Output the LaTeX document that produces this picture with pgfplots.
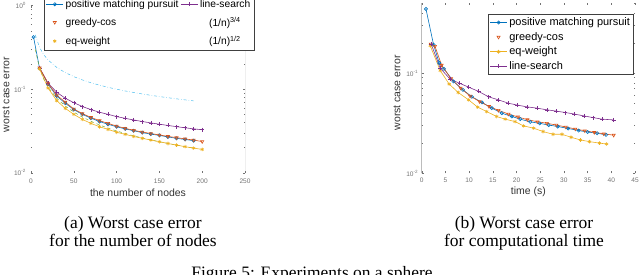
\documentclass[border=0pt]{standalone}
\usepackage{fontspec}
\setmainfont{Liberation Sans}
\newfontfamily\capfont{Liberation Serif}
\usepackage{pgfplots}
\pgfplotsset{compat=1.18}
\definecolor{mblue}{rgb}{0,0.447,0.741}
\definecolor{morange}{rgb}{0.85,0.325,0.098}
\definecolor{myellow}{rgb}{0.929,0.694,0.125}
\definecolor{mpurple}{rgb}{0.494,0.184,0.556}
\definecolor{mgreen}{rgb}{0.466,0.674,0.188}
\definecolor{mcyan}{rgb}{0.301,0.745,0.933}
\begin{document}
\begin{tikzpicture}
\useasboundingbox (0,0) rectangle (640bp,275bp);
% ---------------- left plot ----------------
\begin{semilogyaxis}[
  scale only axis, axis line style={draw=none},
  tick style={black!55, line width=0.4pt}, major tick length=2.2bp, minor tick length=1.3bp,
  tick label style={font=\fontsize{6.6}{7}\selectfont, text=black!55},
  label style={font=\fontsize{10.5}{12}\selectfont, text=black!80},
  /pgf/number format/assume math mode=true,
  ytick={0.01,0.1,1},
  yticklabels={10\textsuperscript{-2},10\textsuperscript{-1},10\textsuperscript{0}},
  at={(31bp,102.3bp)}, anchor=south west, width=214bp, height=167bp,
  xmin=0, xmax=250, ymin=0.01, ymax=1,
  xtick={0,50,100,150,200,250},
  xticklabel style={yshift=-2.5bp},
  yticklabel style={xshift=-1.5bp},
  xlabel={the number of nodes}, ylabel={worst case error},
  xlabel style={at={(axis description cs:0.5,-0.093)}, anchor=north, inner sep=0pt},
  ylabel style={at={(axis description cs:-0.117,0.468)}, anchor=center},
  legend cell align=left,
  legend columns=2,
  legend style={at={(0.062,1.0575)}, anchor=north west, draw=black!75, fill=white,
    font=\fontsize{10.3}{12}\selectfont, row sep=4.5bp, inner sep=1.5bp},
]
\addplot[mblue, line width=0.6pt, mark=o, mark size=1.6bp] coordinates {(3,0.42) (10,0.178) (20,0.115) (30,0.083) (40,0.068) (50,0.057) (60,0.050) (70,0.045) (80,0.041) (90,0.038) (100,0.0355) (110,0.0335) (120,0.0318) (130,0.0302) (140,0.029) (150,0.028) (160,0.0268) (170,0.0258) (180,0.025) (190,0.0242)};
\addlegendentry{positive matching pursuit}
\addplot[mpurple, line width=0.6pt, mark=+, mark size=2bp] coordinates {(10,0.18) (20,0.118) (30,0.092) (40,0.078) (50,0.069) (60,0.062) (70,0.057) (80,0.053) (90,0.050) (100,0.047) (110,0.0448) (120,0.0428) (130,0.041) (140,0.0395) (150,0.0381) (160,0.0368) (170,0.0356) (180,0.0345) (190,0.0335) (200,0.0327)};
\addlegendentry{line-search}
\addplot[morange, line width=0.6pt, mark=triangle, mark size=1.8bp, mark options={rotate=180},
  legend image code/.code={\draw[morange, line width=0.6pt, mark=triangle, mark size=1.8bp, mark options={rotate=180}] plot coordinates {(0.3cm,0cm)};}] coordinates {(10,0.18) (20,0.117) (30,0.085) (40,0.070) (50,0.058) (60,0.051) (70,0.046) (80,0.042) (90,0.039) (100,0.0362) (110,0.034) (120,0.0322) (130,0.0307) (140,0.0295) (150,0.0283) (160,0.0272) (170,0.0263) (180,0.0254) (190,0.0246) (200,0.0236)};
\addlegendentry{greedy-cos}
\addplot[mgreen, line width=0.5pt, dashed, legend image code/.code={}] coordinates {(5,0.2991) (10,0.1778) (15,0.1312) (20,0.1057) (30,0.0780) (40,0.0629) (50,0.0532) (60,0.0464) (70,0.0413) (80,0.0373) (90,0.0342) (100,0.0316) (110,0.0295) (120,0.0276) (130,0.0261) (140,0.0247) (150,0.0235) (160,0.0224) (170,0.0214) (180,0.0205) (190,0.0197)};
\addlegendentry{\hspace*{9bp}(1/n)\textsuperscript{3/4}}
\addplot[myellow, line width=0.6pt, mark=asterisk, mark size=1.8bp,
  legend image code/.code={\draw[myellow, line width=0.6pt, mark=asterisk, mark size=1.8bp] plot coordinates {(0.3cm,0cm)};}] coordinates {(10,0.175) (20,0.103) (30,0.073) (40,0.059) (50,0.050) (60,0.0435) (70,0.039) (80,0.0355) (90,0.033) (100,0.0305) (110,0.0288) (120,0.0272) (130,0.0258) (140,0.0246) (150,0.0235) (160,0.0224) (170,0.0214) (180,0.0205) (190,0.0197) (200,0.0190)};
\addlegendentry{eq-weight}
\addplot[mcyan, line width=0.5pt, dash dot, legend image code/.code={}] coordinates {(5,0.4472) (10,0.3162) (15,0.2582) (20,0.2236) (30,0.1826) (40,0.1581) (50,0.1414) (60,0.1291) (70,0.1195) (80,0.1118) (90,0.1054) (100,0.1) (110,0.0953) (120,0.0913) (130,0.0877) (140,0.0845) (150,0.0816) (160,0.0791) (170,0.0767) (180,0.0745) (190,0.0725)};
\addlegendentry{\hspace*{9bp}(1/n)\textsuperscript{1/2}}
\draw[black!50, line width=0.8pt] (rel axis cs:1,0) -- (rel axis cs:1,1);
\end{semilogyaxis}
% ---------------- right plot ----------------
\begin{semilogyaxis}[
  scale only axis, axis line style={draw=none},
  tick style={black!55, line width=0.4pt}, major tick length=2.2bp, minor tick length=1.3bp,
  tick label style={font=\fontsize{6.6}{7}\selectfont, text=black!55},
  label style={font=\fontsize{10.5}{12}\selectfont, text=black!80},
  /pgf/number format/assume math mode=true,
  ytick={0.01,0.1,1},
  yticklabels={10\textsuperscript{-2},10\textsuperscript{-1},10\textsuperscript{0}},
  at={(421.7bp,101.7bp)}, anchor=south west, width=213.3bp, height=170.3bp,
  xmin=0, xmax=45, ymin=0.01, ymax=0.5,
  xtick={0,5,...,45},
  xticklabel style={yshift=-1.2bp},
  xlabel={time (s)}, ylabel={worst case error},
  xlabel style={at={(axis description cs:0.5,-0.079)}, anchor=north, inner sep=0pt},
  ylabel style={at={(axis description cs:-0.116,0.473)}, anchor=center},
  legend cell align=left,
  legend style={at={(0.311,0.935)}, anchor=north west, draw=black!75, fill=white,
    font=\fontsize{11}{12}\selectfont, row sep=1.2bp, inner sep=1.5bp},
]
\addplot[mblue, line width=0.6pt, mark=o, mark size=1.6bp] coordinates {(0.9,0.436) (2.5,0.192) (3.7,0.126) (4.7,0.11) (6.7,0.0826) (8.7,0.068) (10.6,0.058) (12.7,0.051) (14.8,0.0447) (16.9,0.0398) (19,0.0369) (20.8,0.0347) (22.9,0.0326) (24.9,0.0315) (26.8,0.0303) (28.7,0.0293) (30.9,0.028) (33.1,0.0267) (35.0,0.0258) (37.0,0.0251) (38.9,0.0242)};
\addlegendentry{positive matching pursuit}
\addplot[morange, line width=0.6pt, mark=triangle, mark size=1.8bp, mark options={rotate=180},
  legend image code/.code={\draw[morange, line width=0.6pt, mark=triangle, mark size=1.8bp, mark options={rotate=180}] plot coordinates {(0.3cm,0cm)};}] coordinates {(1.9,0.195) (2.8,0.185) (4.2,0.12) (6.2,0.088) (8.2,0.071) (10.2,0.059) (12.2,0.052) (14.2,0.0465) (16.2,0.0425) (18.3,0.039) (20.3,0.0365) (22.3,0.0343) (24.4,0.0327) (26.4,0.0316) (28.4,0.0303) (30.4,0.029) (32.4,0.0277) (34.4,0.0266) (36.4,0.0256) (38.4,0.0248) (40.5,0.0240)};
\addlegendentry{greedy-cos}
\addplot[myellow, line width=0.6pt, mark=asterisk, mark size=1.8bp] coordinates {(1.8,0.1875) (3.9,0.106) (5.8,0.0776) (7.7,0.064) (9.9,0.054) (11.8,0.0457) (13.7,0.0413) (15.8,0.0369) (17.6,0.0347) (19.7,0.0328) (21.5,0.0297) (23.6,0.0282) (25.6,0.0261) (27.7,0.0245) (29.6,0.0245) (31.5,0.0229) (33.5,0.0215) (35.4,0.0207) (37.5,0.0200) (39.0,0.0196)};
\addlegendentry{eq-weight}
\addplot[mpurple, line width=0.6pt, mark=+, mark size=2bp] coordinates {(2.0,0.195) (3.9,0.112) (6.0,0.087) (8,0.079) (9.9,0.0724) (12,0.0656) (14.1,0.058) (16.2,0.054) (18.3,0.050) (20.1,0.048) (22.2,0.046) (24.3,0.0447) (26.4,0.043) (28.3,0.0418) (30.3,0.0404) (32.2,0.039) (34.2,0.0374) (36.1,0.036) (38,0.0347) (40.5,0.0341)};
\addlegendentry{line-search}
\draw[black!75, line width=0.8pt] (rel axis cs:0,0) -- (rel axis cs:0,1);
\end{semilogyaxis}
% ---------------- captions ----------------
\node[font=\capfont\fontsize{17.5}{18.4}\selectfont, inner sep=0pt, anchor=base] at (133bp,46.7bp) {(a) Worst case error};
\node[font=\capfont\fontsize{17.5}{18.4}\selectfont, inner sep=0pt, anchor=base] at (133bp,28.3bp) {for the number of nodes};
\node[font=\capfont\fontsize{17.5}{18.4}\selectfont, inner sep=0pt, anchor=base] at (524bp,46.7bp) {(b) Worst case error};
\node[font=\capfont\fontsize{17.5}{18.4}\selectfont, inner sep=0pt, anchor=base] at (524bp,28.3bp) {for computational time};
\node[font=\capfont\fontsize{17.5}{18.4}\selectfont, inner sep=0pt, anchor=base] at (312bp,-3.3bp) {Figure 5: Experiments on a sphere};
\end{tikzpicture}
\end{document}
